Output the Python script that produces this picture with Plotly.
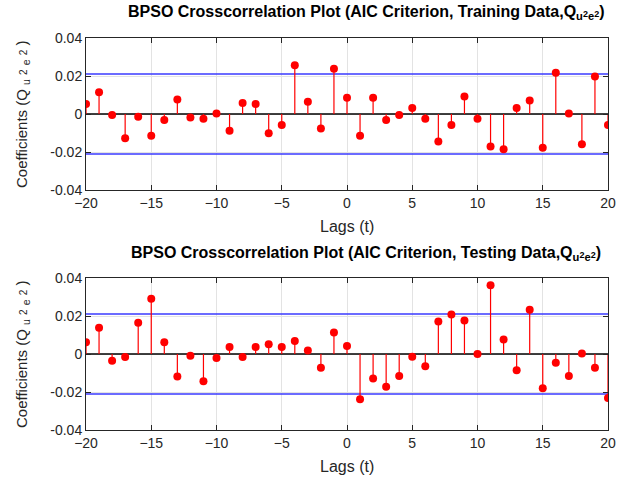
import plotly.graph_objects as go

lags = list(range(-20, 21))
train_vals = [0.0053, 0.0115, -0.0005, -0.0127, -0.0014, -0.0115, -0.0032, 0.0076, -0.0019, -0.0025,
              0.0002, -0.0088, 0.0058, 0.0053, -0.0101, -0.0058, 0.0256, 0.0065, -0.0076, 0.0238,
              0.0085, -0.0115, 0.0085, -0.0032, -0.0005, 0.0032, -0.0025, -0.0145, -0.0058, 0.0092,
              -0.0025, -0.0171, -0.0185, 0.0032, 0.0071, -0.0178, 0.0217, 0.0002, -0.0159, 0.0198,
              -0.0058]
test_vals = [0.0062, 0.0138, -0.0035, -0.0016, 0.0164, 0.0291, 0.0062, -0.0118, -0.0009, -0.0143,
             -0.0021, 0.0037, -0.0016, 0.0037, 0.0051, 0.0037, 0.0069, 0.0018, -0.0072, 0.0113,
             0.0042, -0.0238, -0.0129, -0.0173, -0.0116, -0.0014, -0.0065, 0.0171, 0.0208, 0.0176,
             0.0000, 0.0362, 0.0076, -0.0085, 0.0233, -0.018, -0.0046, -0.0116, 0.0002, -0.0072,
             -0.0231]
conf_bound = 0.021
x_ticks = [-20, -15, -10, -5, 0, 5, 10, 15, 20]
y_ticks = [-0.04, -0.02, 0, 0.02, 0.04]
y_tick_labels = ["-0.04", "-0.02", "0", "0.02", "0.04"]


def subq(sz, spaced=False):
    two = "<span style='font-size:%dpx'>2</span>" % sz
    if spaced:
        return "Q <sub>u</sub> " + two + " <sub>e</sub> " + two + " "
    return "Q<sub>u</sub>" + two + "<sub>e</sub>" + two


titles = [
    "BPSO Crosscorrelation Plot (AIC Criterion, Training Data," + subq(9) + ")",
    "BPSO Crosscorrelation Plot (AIC Criterion, Testing Data," + subq(9) + ")",
]
ylabel = "Coefficients (" + subq(10, spaced=True) + ")"
xlabel = "Lags (t)"

W, H = 628, 484
FONT = "Liberation Sans, Arial, Helvetica, sans-serif"
TXT = "#262626"

fig = go.Figure()

# pixel boxes of the two axes (left, right, top, bottom)
boxes = [(86, 608, 38, 190), (86, 608, 278, 430)]

def px_x(p):
    return p / W

def px_y(p):
    return 1 - p / H

for i, (vals, box) in enumerate(zip([train_vals, test_vals], boxes)):
    xa = "x" if i == 0 else "x2"
    ya = "y" if i == 0 else "y2"
    l, r, t, b = box
    # confidence bounds
    for sgn in (1, -1):
        fig.add_trace(go.Scatter(x=[lags[0], lags[-1]], y=[sgn * conf_bound] * 2, mode="lines",
                                 line=dict(color="#3a3aff", width=1.5), xaxis=xa, yaxis=ya,
                                 showlegend=False, hoverinfo="skip"))
    # zero line
    fig.add_trace(go.Scatter(x=[lags[0], lags[-1]], y=[0, 0], mode="lines",
                             line=dict(color="#000000", width=1.5), xaxis=xa, yaxis=ya,
                             showlegend=False, hoverinfo="skip"))
    # stems
    sx, sy = [], []
    for lg, v in zip(lags, vals):
        sx += [lg, lg, None]
        sy += [0, v, None]
    fig.add_trace(go.Scatter(x=sx, y=sy, mode="lines", line=dict(color="#ff0000", width=1.2),
                             xaxis=xa, yaxis=ya, showlegend=False, hoverinfo="skip"))
    fig.add_trace(go.Scatter(x=lags, y=vals, mode="markers",
                             marker=dict(color="#ff0000", size=8, line=dict(width=0)),
                             xaxis=xa, yaxis=ya, showlegend=False))

    axcommon = dict(showline=True, linecolor=TXT, linewidth=1, mirror="ticks", ticks="inside",
                    ticklen=5, tickcolor=TXT, showgrid=True, gridcolor="#e3e3e3", gridwidth=1,
                    zeroline=False, automargin=False,
                    tickfont=dict(family=FONT, size=14, color=TXT))
    fig.layout["xaxis" if i == 0 else "xaxis2"] = dict(
        axcommon, domain=[px_x(l), px_x(r)], range=[-20, 20], tickvals=x_ticks,
        anchor=ya, fixedrange=True)
    fig.layout["yaxis" if i == 0 else "yaxis2"] = dict(
        axcommon, domain=[px_y(b), px_y(t)], range=[-0.04, 0.04], tickvals=y_ticks,
        ticktext=y_tick_labels, anchor=xa, fixedrange=True)

    # title
    fig.add_annotation(text="<b>" + titles[i] + "</b>", x=px_x(366), y=px_y(t - 25),
                       xref="paper", yref="paper", xanchor="center", yanchor="middle",
                       showarrow=False, font=dict(family=FONT, size=16, color="#000000"))
    # x label
    fig.add_annotation(text=xlabel, x=px_x((l + r) / 2), y=px_y(b + 36),
                       xref="paper", yref="paper", xanchor="center", yanchor="middle",
                       showarrow=False, font=dict(family=FONT, size=16, color=TXT))
    # y label
    fig.add_annotation(text=ylabel, x=px_x(22), y=px_y((t + b) / 2), textangle=-90,
                       xref="paper", yref="paper", xanchor="center", yanchor="middle",
                       showarrow=False, font=dict(family=FONT, size=15, color=TXT))

fig.update_layout(width=W, height=H, margin=dict(l=0, r=0, t=0, b=0),
                  paper_bgcolor="white", plot_bgcolor="white", showlegend=False)

fig.write_html("out.html", post_script=(
    "document.documentElement.style.margin='0';"
    "document.body.style.margin='0';"
    "document.documentElement.style.overflow='hidden';"))
